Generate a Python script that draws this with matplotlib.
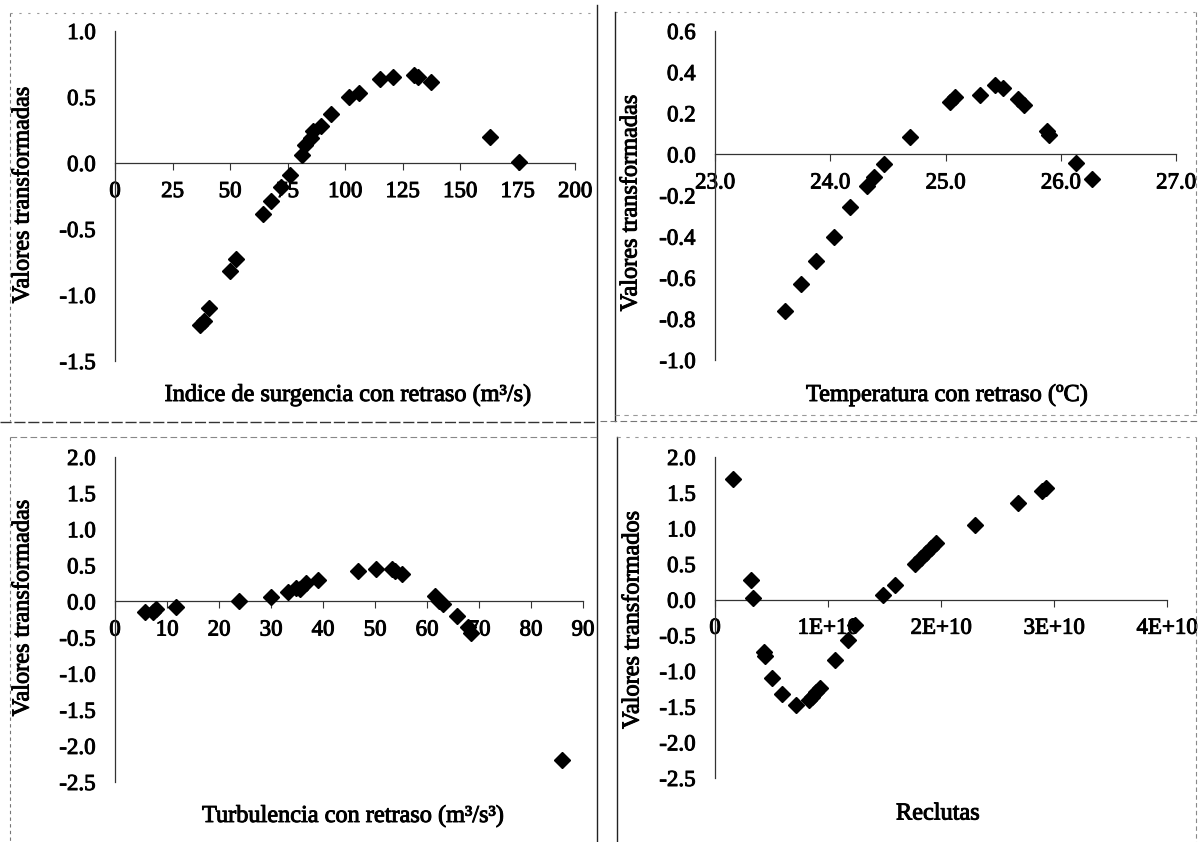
"""
Four panels of transformed values vs lagged environmental variables
(surgencia, temperatura, turbulencia, reclutas), Excel-style scatter.
"""

import matplotlib
matplotlib.use('Agg')
import matplotlib.pyplot as plt
import matplotlib.patheffects as pe
from matplotlib.lines import Line2D

W, H = 1200, 842

plt.rcParams['font.family'] = ['Liberation Serif', 'DejaVu Serif']
plt.rcParams['axes.unicode_minus'] = False

# Panel 1 - Indice de surgencia con retraso (m3/s)
surg_x = [36.8, 38.5, 41.0, 50.2, 52.7, 64.4, 67.8, 72.0, 76.2, 81.2, 82.8, 85.0,
          86.2, 89.5, 94.0, 101.8, 106.3, 115.1, 120.8, 130.2, 131.9, 137.6, 163.2, 175.7]
surg_y = [-1.23, -1.20, -1.10, -0.82, -0.73, -0.39, -0.29, -0.18, -0.09, 0.06, 0.14, 0.19,
          0.24, 0.28, 0.37, 0.50, 0.53, 0.64, 0.65, 0.67, 0.65, 0.61, 0.20, 0.01]
surg_xticks = [0, 25, 50, 75, 100, 125, 150, 175, 200]
surg_yticks = [1.0, 0.5, 0.0, -0.5, -1.0, -1.5]

# Panel 2 - Temperatura con retraso (oC)
temp_x = [23.61, 23.75, 23.88, 24.03, 24.17, 24.32, 24.38, 24.47, 24.69, 25.04,
          25.08, 25.30, 25.43, 25.50, 25.63, 25.68, 25.88, 25.90, 26.13, 26.27]
temp_y = [-0.76, -0.63, -0.52, -0.40, -0.255, -0.155, -0.11, -0.047, 0.083, 0.257,
          0.28, 0.29, 0.337, 0.325, 0.27, 0.24, 0.115, 0.094, -0.04, -0.12]
temp_xticks = [23.0, 24.0, 25.0, 26.0, 27.0]
temp_yticks = [0.6, 0.4, 0.2, 0.0, -0.2, -0.4, -0.6, -0.8, -1.0]

# Panel 3 - Turbulencia con retraso (m3/s3)
turb_x = [5.8, 7.3, 7.9, 11.7, 23.9, 30.0, 33.2, 34.8, 35.6, 36.7, 39.0, 46.8,
          50.1, 53.2, 53.9, 55.2, 61.5, 62.4, 63.1, 65.7, 67.9, 68.5, 85.9]
turb_y = [-0.14, -0.14, -0.10, -0.08, 0.00, 0.06, 0.13, 0.19, 0.175, 0.25, 0.29, 0.415,
          0.45, 0.45, 0.415, 0.38, 0.07, 0.01, -0.04, -0.20, -0.35, -0.44, -2.19]
turb_xticks = [0, 10, 20, 30, 40, 50, 60, 70, 80, 90]
turb_yticks = [2.0, 1.5, 1.0, 0.5, 0.0, -0.5, -1.0, -1.5, -2.0, -2.5]

# Panel 4 - Reclutas
recl_x = [0.163e10, 0.323e10, 0.34e10, 0.436e10, 0.44e10, 0.504e10, 0.596e10, 0.72e10,
          0.834e10, 0.858e10, 0.892e10, 0.926e10, 1.062e10, 1.174e10, 1.243e10, 1.49e10,
          1.593e10, 1.77e10, 1.82e10, 1.866e10, 1.913e10, 1.957e10, 2.30e10, 2.68e10,
          2.89e10, 2.93e10]
recl_y = [1.69, 0.27, 0.03, -0.73, -0.79, -1.10, -1.32, -1.47, -1.41, -1.36, -1.30, -1.24,
          -0.84, -0.56, -0.36, 0.06, 0.21, 0.495, 0.584, 0.66, 0.73, 0.79, 1.05, 1.35,
          1.52, 1.56]
recl_xticks = [0, 1e10, 2e10, 3e10, 4e10]
recl_xlabels = ['0', '1E+10', '2E+10', '3E+10', '4E+10']
recl_yticks = [2.0, 1.5, 1.0, 0.5, 0.0, -0.5, -1.0, -1.5, -2.0, -2.5]

AXIS_COLOR = '#333333'
TICK_SIZE = 16.5
LABEL_SIZE = 17.5
# scanned print looks a bit heavy, thicken the glyphs slightly
INK = [pe.withStroke(linewidth=0.7, foreground='black')]


def fx(px):
    return px / W


def fy(py):
    return 1 - py / H


def add_panel(fig, x0, x1, ytop, ybot, xticks, yticks, xfmt, yfmt, xlabels=None):
    """Axes placed in pixel coords; x axis crosses at y=0 like Excel"""
    ax = fig.add_axes([fx(x0), fy(ybot), (x1 - x0) / W, (ybot - ytop) / H])
    ax.set_xlim(xticks[0], xticks[-1])
    ax.set_ylim(min(yticks), max(yticks))
    ax.patch.set_alpha(0)

    for s in ['top', 'right']:
        ax.spines[s].set_visible(False)
    ax.spines['bottom'].set_position(('data', 0))
    for s in ['bottom', 'left']:
        ax.spines[s].set_color(AXIS_COLOR)
        ax.spines[s].set_linewidth(0.9)

    ax.set_xticks(xticks)
    ax.set_xticklabels(xlabels if xlabels else [xfmt.format(t) for t in xticks])
    ax.set_yticks(yticks)
    ax.set_yticklabels([yfmt.format(t) for t in yticks])
    ax.tick_params(axis='x', direction='out', length=5, width=0.8, color=AXIS_COLOR,
                   pad=8, labelsize=TICK_SIZE)
    ax.tick_params(axis='y', direction='out', length=0, pad=14, labelsize=TICK_SIZE)
    for lbl in ax.get_xticklabels() + ax.get_yticklabels():
        lbl.set_path_effects(INK)
    return ax


def frame_line(fig, x0, y0, x1, y1, color='#777777', ls=(0, (3, 3)), lw=0.8):
    fig.add_artist(Line2D([fx(x0), fx(x1)], [fy(y0), fy(y1)], transform=fig.transFigure,
                          color=color, linestyle=ls, linewidth=lw))


fig = plt.figure(figsize=(W / 100, H / 100), dpi=100)

# chart-area borders of the four pasted charts
frame_line(fig, 10, 13, 597, 13, color='#999999', ls=(0, (2, 6)))
frame_line(fig, 10, 13, 10, 421)
frame_line(fig, 597, 5, 597, 842, color='#222222', ls='-', lw=1.0)
frame_line(fig, 0, 422, 597, 422, color='#333333', ls=(0, (8, 2)), lw=1.0)
frame_line(fig, 10, 437, 597, 437, color='#888888', ls=(0, (6, 3)))
frame_line(fig, 10, 437, 10, 842)
frame_line(fig, 615, 12, 1196, 12, color='#999999', ls=(0, (2, 6)))
frame_line(fig, 615, 12, 615, 421, color='#222222', ls='-', lw=1.0)
frame_line(fig, 1196, 12, 1196, 415, color='#888888', ls=(0, (4, 3)))
frame_line(fig, 615, 415, 1196, 415, color='#999999', ls=(0, (4, 4)))
frame_line(fig, 600, 421, 1200, 421, color='#777777', ls=(0, (6, 3)))
frame_line(fig, 617, 437, 617, 842, color='#222222', ls='-', lw=1.0)
frame_line(fig, 617, 437, 1196, 437, color='#999999', ls=(0, (3, 5)))
frame_line(fig, 1196, 437, 1196, 842, color='#888888', ls=(0, (4, 3)))

mk = dict(marker='D', markersize=7.8, color='black', linestyle='none', zorder=5,
          clip_on=False)

ax1 = add_panel(fig, 115, 575, 31, 361, surg_xticks, surg_yticks, '{:.0f}', '{:.1f}')
ax1.plot(surg_x, surg_y, **mk)

ax2 = add_panel(fig, 715, 1176, 31, 360, temp_xticks, temp_yticks, '{:.1f}', '{:.1f}')
ax2.plot(temp_x, temp_y, **mk)

ax3 = add_panel(fig, 115, 583, 457, 782, turb_xticks, turb_yticks, '{:.0f}', '{:.1f}')
ax3.plot(turb_x, turb_y, **mk)

ax4 = add_panel(fig, 715, 1167, 457, 778, recl_xticks, recl_yticks, None, '{:.1f}',
                xlabels=recl_xlabels)
ax4.plot(recl_x, recl_y, **mk)

# axis titles
titles = [
    (348, 395, 'Indice de surgencia con retraso (m\u00b3/s)', 0),
    (947, 395, 'Temperatura con retraso (\u00baC)', 0),
    (353, 816, 'Turbulencia con retraso (m\u00b3/s\u00b3)', 0),
    (938, 814, 'Reclutas', 0),
    (23, 195, 'Valores transformadas', 90),
    (631, 203, 'Valores transformadas', 90),
    (23, 608, 'Valores transformadas', 90),
    (633, 620, 'Valores transformados', 90),
]
for x, y, txt, rot in titles:
    fig.text(fx(x), fy(y), txt, rotation=rot, ha='center', va='center',
             fontsize=LABEL_SIZE, path_effects=INK)

fig.savefig('out.png', dpi=100)
